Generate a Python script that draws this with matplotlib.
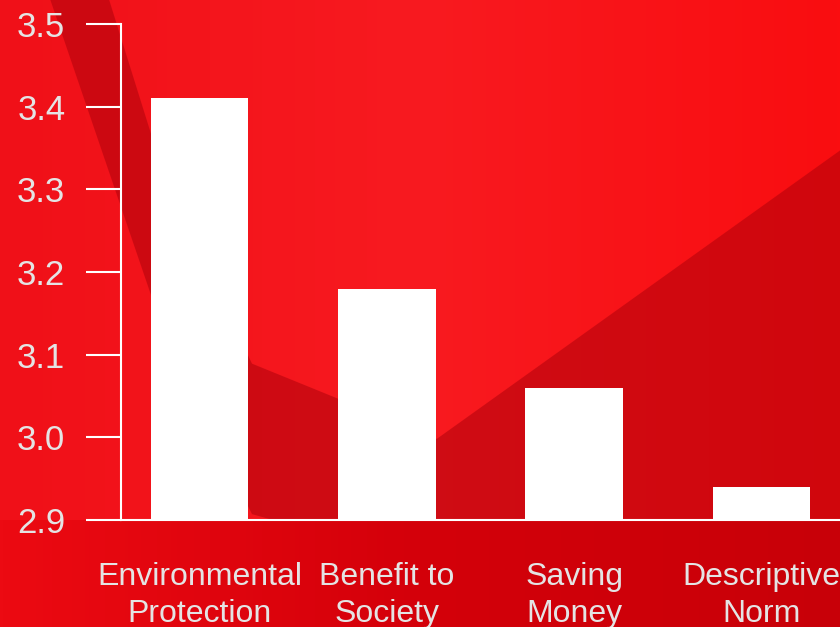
import numpy as np
import matplotlib.pyplot as plt
from matplotlib.colors import LinearSegmentedColormap
from matplotlib.patches import Polygon

categories = ["Environmental\nProtection", "Benefit to\nSociety", "Saving\nMoney", "Descriptive\nNorm"]
values = [3.41, 3.18, 3.06, 2.94]
yticks = [2.9, 3.0, 3.1, 3.2, 3.3, 3.4, 3.5]

plt.rcParams["font.family"] = ["Liberation Sans", "DejaVu Sans"]

fig = plt.figure(figsize=(8.4, 6.27), dpi=100, facecolor="#ee161d")

# background: red gradient with a darker swoosh
bg = fig.add_axes([0, 0, 1, 1], zorder=-10)
bg.set_axis_off()
grad = LinearSegmentedColormap.from_list("bg", ["#f01018", "#f81a20", "#fa0d10"])
bg.imshow(np.linspace(0, 1, 256)[None, :], cmap=grad, aspect="auto",
          extent=(0, 1, 0, 1), zorder=0)
bg.add_patch(Polygon([(0.06, 1.0), (0.13, 1.0), (0.20, 0.70), (0.30, 0.42), (0.52, 0.30),
                      (1.0, 0.76), (1.0, 0.17), (0.45, 0.17), (0.38, 0.15), (0.30, 0.18),
                      (0.20, 0.45)],
                     facecolor="#a8000a", edgecolor="none", alpha=0.5, zorder=1))
lower = LinearSegmentedColormap.from_list("lo", ["#ec0a12", "#d4000a", "#c80008"])
bg.imshow(np.linspace(0, 1, 256)[None, :], cmap=lower, aspect="auto",
          extent=(0, 1, 0, 0.17), zorder=2)
bg.set_xlim(0, 1)
bg.set_ylim(0, 1)

ax = fig.add_axes([0.144, 0.1707, 0.856, 0.791], zorder=2)
ax.patch.set_visible(False)

ax.bar(range(len(values)), values, width=0.52, color="white", zorder=3)
ax.set_ylim(2.9, 3.5)
ax.set_xlim(-0.42, 3.42)

ax.set_yticks(yticks)
ax.set_yticklabels([f"{t:.1f}" for t in yticks])
ax.set_xticks(range(len(categories)))
ax.set_xticklabels(categories, linespacing=1.3)

ax.tick_params(axis="y", colors="white", length=25, width=1.5, pad=15,
               labelsize=25, labelcolor="#e4e4e4")
ax.tick_params(axis="x", length=0, pad=30, labelsize=23, labelcolor="#e4e4e4")

for s in ["top", "right"]:
    ax.spines[s].set_visible(False)
for s in ["left", "bottom"]:
    ax.spines[s].set_color("white")
    ax.spines[s].set_linewidth(1.5)

fig.savefig("out.png", dpi=100, facecolor=fig.get_facecolor())
